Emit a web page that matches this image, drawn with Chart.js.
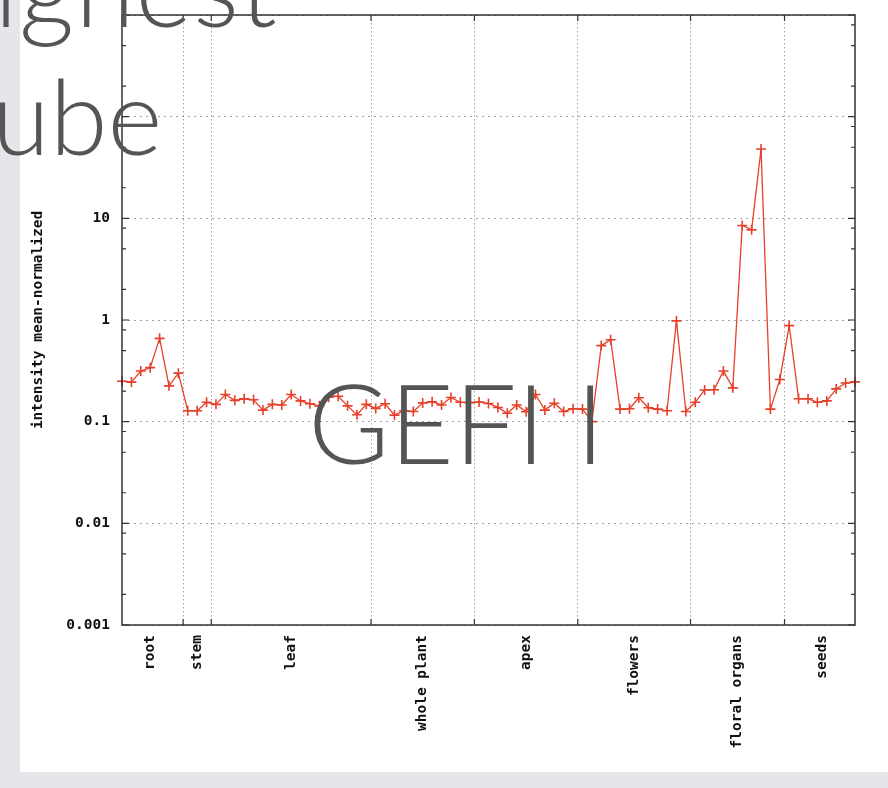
<!DOCTYPE html>
<html>
<head>
<meta charset="utf-8">
<script src="https://cdn.jsdelivr.net/npm/chart.js@4/dist/chart.umd.min.js"></script>
<style>
body { margin: 0; background: #e4e6ea; width: 888px; height: 788px; overflow: hidden; position: relative; }
#panel { position: absolute; left: 20px; top: 0; width: 868px; height: 772px; background: #fff; }
#wrap { position: absolute; left: 0; top: 0; width: 888px; height: 788px; }
.big { position: absolute; font-family: Lato, sans-serif; font-weight: 300; color: #555; line-height: 1; white-space: pre; }
</style>
</head>
<body>
<div id="panel"></div>
<div id="wrap"><canvas id="chart" width="888" height="788"></canvas></div>
<div class="big" style="left:-6px; top:-69px; font-size:108px; letter-spacing:1px;">ighest</div>
<div class="big" style="left:-8px; top:62px; font-size:105px;">ube</div>
<div class="big" style="left:308px; top:366px; font-size:111px;">GEFI I</div>
<script>
// tissue groups along the x axis
const groups = ['root', 'stem', 'leaf', 'whole plant', 'apex', 'flowers', 'floral organs', 'seeds'];
const groupSizes = [7, 3, 17, 11, 11, 12, 10, 8];

// mean-normalized intensity per sample
const values = [
  0.25, 0.245, 0.315, 0.34, 0.66, 0.225, 0.30,
  0.128, 0.128, 0.155,
  0.148, 0.185, 0.162, 0.168, 0.164, 0.13, 0.148, 0.146, 0.185, 0.16, 0.15, 0.143, 0.174, 0.178, 0.143, 0.117, 0.148,
  0.135, 0.15, 0.116, 0.128, 0.126, 0.153, 0.157, 0.146, 0.173, 0.155, 0.154,
  0.156, 0.151, 0.138, 0.121, 0.146, 0.125, 0.185, 0.13, 0.152, 0.126, 0.134,
  0.133, 0.1, 0.56, 0.64, 0.133, 0.134, 0.172, 0.137, 0.133, 0.128, 0.98, 0.126,
  0.155, 0.205, 0.206, 0.315, 0.215, 8.5, 7.7, 48, 0.133, 0.26,
  0.88, 0.168, 0.168, 0.155, 0.16, 0.21, 0.24, 0.246
];

const yTickLabels = ['0.001', '0.01', '0.1', '1', '10'];
const yMajors = [0.001, 0.01, 0.1, 1, 10, 100, 1000];
const yMinors = [2, 5, 8];

// group boundaries and centres in sample-index units
const bounds = [];
const centers = [];
let start = 0;
groupSizes.forEach((n, i) => {
  centers.push(start + (n - 1) / 2);
  start += n;
  if (i < groupSizes.length - 1) bounds.push(start - 0.5);
});

const points = values.map((v, i) => ({x: i, y: v}));
const red = '#e6402a';
const tickFont = {family: '"DejaVu Sans Mono", monospace', size: 14.5, weight: 'bold'};

const frame = {
  id: 'frame',
  afterDraw(chart) {
    const ctx = chart.ctx;
    const a = chart.chartArea;
    const ys = chart.scales.y, xs = chart.scales.x;
    ctx.save();
    ctx.strokeStyle = '#333';
    ctx.lineWidth = 1.5;
    ctx.strokeRect(a.left, a.top, a.right - a.left, a.bottom - a.top);
    ctx.lineWidth = 1.2;
    ctx.beginPath();
    yMajors.forEach(m => {
      const py = ys.getPixelForValue(m);
      ctx.moveTo(a.left, py); ctx.lineTo(a.left + 7, py);
      ctx.moveTo(a.right, py); ctx.lineTo(a.right - 7, py);
      if (m < 1000) {
        yMinors.forEach(k => {
          const q = ys.getPixelForValue(m * k);
          ctx.moveTo(a.left, q); ctx.lineTo(a.left + 4, q);
          ctx.moveTo(a.right, q); ctx.lineTo(a.right - 4, q);
        });
      }
    });
    bounds.forEach(b => {
      const px = xs.getPixelForValue(b);
      ctx.moveTo(px, a.bottom); ctx.lineTo(px, a.bottom - 6);
      ctx.moveTo(px, a.top); ctx.lineTo(px, a.top + 6);
    });
    ctx.stroke();
    ctx.restore();
  }
};

new Chart(document.getElementById('chart'), {
  type: 'line',
  data: {
    datasets: [{
      data: points,
      borderColor: red,
      borderWidth: 1.3,
      pointStyle: 'cross',
      pointRadius: 5,
      pointBorderWidth: 1.6,
      pointBorderColor: red,
      tension: 0,
      clip: false
    }]
  },
  options: {
    responsive: false,
    animation: false,
    layout: {padding: {left: 26, top: 15, right: 33, bottom: 0}},
    plugins: {legend: {display: false}, tooltip: {enabled: false}},
    scales: {
      x: {
        type: 'linear',
        min: 0,
        max: values.length - 1,
        afterBuildTicks: s => { s.ticks = bounds.concat(centers).map(v => ({value: v})); },
        afterFit: s => { s.height = 163; s.paddingLeft = 0; s.paddingRight = 0; },
        grid: {
          drawTicks: false,
          color: c => (c.tick && bounds.includes(c.tick.value)) ? '#a0a0a0' : 'rgba(0,0,0,0)',
          lineWidth: 1
        },
        border: {display: false, dash: [1.5, 2.5]},
        ticks: {
          autoSkip: false,
          minRotation: 90,
          maxRotation: 90,
          padding: 10,
          color: '#111',
          font: tickFont,
          callback: v => {
            const i = centers.indexOf(v);
            return i >= 0 ? groups[i] : '';
          }
        }
      },
      y: {
        type: 'logarithmic',
        min: 0.001,
        max: 1000,
        afterBuildTicks: s => { s.ticks = yMajors.map(v => ({value: v})); },
        afterFit: s => { s.width = 96; s.paddingTop = 0; s.paddingBottom = 0; },
        grid: {drawTicks: false, color: '#a0a0a0', lineWidth: 1},
        border: {display: false, dash: [2, 4]},
        title: {
          display: true,
          text: 'intensity mean-normalized',
          color: '#111',
          font: {family: '"DejaVu Sans Mono", monospace', size: 14.5, weight: 'bold'},
          padding: {top: 4, bottom: 4}
        },
        ticks: {
          padding: 12,
          color: '#111',
          font: tickFont,
          callback: v => {
            const s = String(v);
            return yTickLabels.includes(s) ? s : '';
          }
        }
      }
    }
  },
  plugins: [frame]
});
</script>
</body>
</html>
